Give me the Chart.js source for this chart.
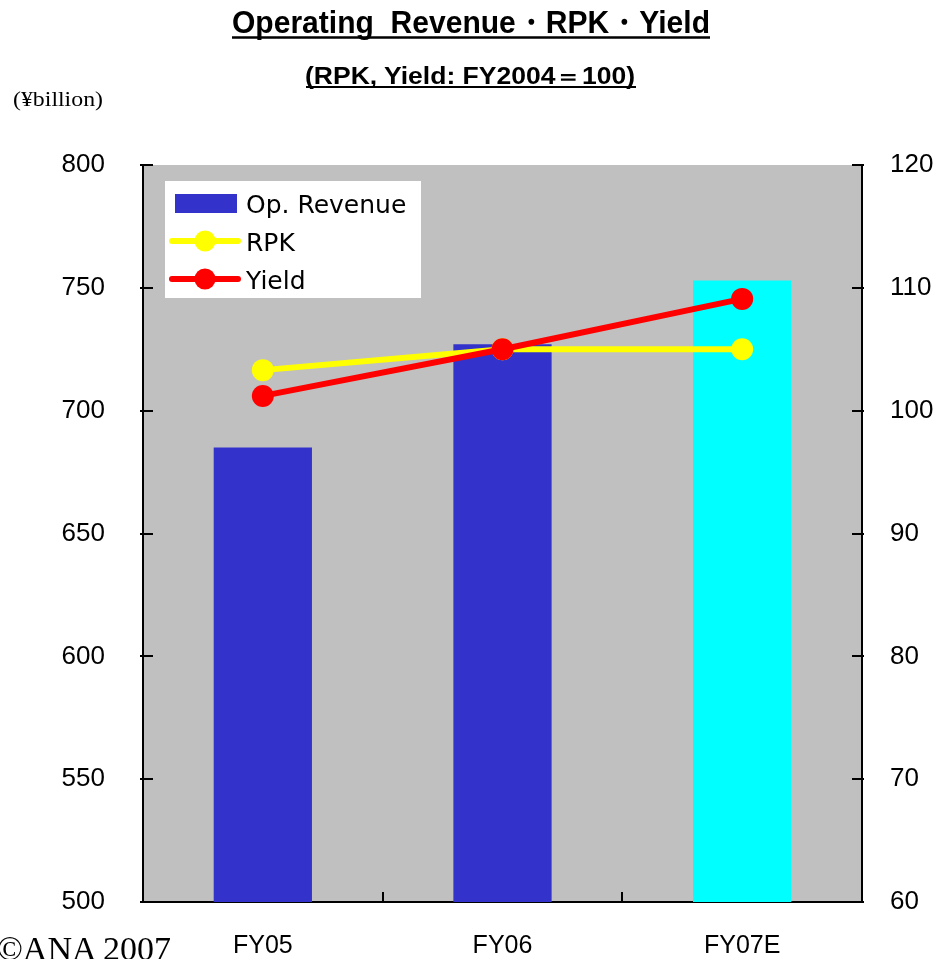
<!DOCTYPE html>
<html>
<head>
<meta charset="utf-8">
<script src="https://cdn.jsdelivr.net/npm/chart.js@4"></script>
<style>
  body { margin: 0; background: #fff; }
  #wrap { position: relative; width: 939px; height: 959px; overflow: hidden; }
  #chart { position: absolute; left: 0; top: 0; }
  #overlay { position: absolute; left: 0; top: 0; pointer-events: none; }
</style>
</head>
<body>
<div id="wrap">
  <canvas id="chart" width="939" height="959"></canvas>
  <svg id="overlay" width="939" height="959" xmlns="http://www.w3.org/2000/svg">
    <!-- titles -->
    <text x="471" y="33" text-anchor="middle" textLength="478" lengthAdjust="spacingAndGlyphs"
      style="white-space:pre" font-family="Liberation Sans, Arial, sans-serif" font-weight="bold" font-size="32">Operating  Revenue・RPK・Yield</text>
    <line x1="232" y1="37.5" x2="710" y2="37.5" stroke="#000" stroke-width="2.5"/>
    <text x="470" y="84" text-anchor="middle" textLength="330" lengthAdjust="spacingAndGlyphs"
      font-family="Liberation Sans, Arial, sans-serif" font-weight="bold" font-size="23">(RPK, Yield: FY2004＝100)</text>
    <line x1="306" y1="87" x2="636" y2="87" stroke="#000" stroke-width="2"/>
    <text x="13" y="106" textLength="90" lengthAdjust="spacingAndGlyphs"
      font-family="Liberation Serif, Times New Roman, serif" font-size="20">(¥billion)</text>
    <text x="-3" y="960" font-family="Liberation Serif, Times New Roman, serif" font-size="34">©ANA 2007</text>

    <!-- legend -->
    <rect x="165" y="181" width="256" height="117" fill="#fff"/>
    <rect x="175" y="194" width="62" height="19" fill="#3333CC"/>
    <text x="246" y="213" font-family="DejaVu Sans, sans-serif" font-size="25">Op. Revenue</text>
    <line x1="172" y1="241" x2="238" y2="241" stroke="#FFFF00" stroke-width="6" stroke-linecap="round"/>
    <circle cx="205" cy="241" r="10.5" fill="#FFFF00"/>
    <text x="246" y="251" font-family="DejaVu Sans, sans-serif" font-size="25">RPK</text>
    <line x1="172" y1="279" x2="238" y2="279" stroke="#FF0000" stroke-width="6" stroke-linecap="round"/>
    <circle cx="205" cy="279" r="10.5" fill="#FF0000"/>
    <text x="246" y="289" font-family="DejaVu Sans, sans-serif" font-size="25">Yield</text>
  </svg>
</div>
<script>
// data
const categories = ["FY05", "FY06", "FY07E"];
const opRevenue = [685, 727, 753];          // ¥billion, left axis
const rpkIndex = [103.3, 105.0, 105.0];     // FY2004 = 100, right axis
const yieldIndex = [101.2, 105.0, 109.1];   // FY2004 = 100, right axis
const barColors = ["#3333CC", "#3333CC", "#00FFFF"];
const revenueTicks = [500, 550, 600, 650, 700, 750, 800];
const indexTicks = [60, 70, 80, 90, 100, 110, 120];

const yFont = { family: "Liberation Sans, Arial, sans-serif", size: 26 };
const xFont = { family: "Liberation Sans, Arial, sans-serif", size: 25 };

// grey plot area
const plotBg = {
  id: "plotBg",
  beforeDraw(chart) {
    const { ctx, chartArea: a } = chart;
    ctx.save();
    ctx.fillStyle = "#C0C0C0";
    ctx.fillRect(a.left, a.top, a.right - a.left, a.bottom - a.top);
    ctx.restore();
  }
};

// tick marks pointing into the plot, like the original
const innerTicks = {
  id: "innerTicks",
  afterDraw(chart) {
    const { ctx, chartArea: a, scales } = chart;
    ctx.save();
    ctx.strokeStyle = "#000";
    ctx.lineWidth = 2;
    ctx.beginPath();
    scales.y.ticks.forEach(t => {
      const y = Math.round(scales.y.getPixelForValue(t.value));
      ctx.moveTo(a.left - 3, y);
      ctx.lineTo(a.left + 10, y);
    });
    scales.y1.ticks.forEach(t => {
      const y = Math.round(scales.y1.getPixelForValue(t.value));
      ctx.moveTo(a.right - 10, y);
      ctx.lineTo(a.right + 2, y);
    });
    for (let i = 0; i < categories.length - 1; i++) {
      const x = Math.round((scales.x.getPixelForValue(i) + scales.x.getPixelForValue(i + 1)) / 2);
      ctx.moveTo(x, a.bottom);
      ctx.lineTo(x, a.bottom - 10);
    }
    ctx.stroke();
    ctx.restore();
  }
};

new Chart(document.getElementById("chart"), {
  data: {
    labels: categories,
    datasets: [
      {
        type: "line",
        label: "Yield",
        data: yieldIndex,
        yAxisID: "y1",
        borderColor: "#FF0000",
        backgroundColor: "#FF0000",
        borderWidth: 6,
        pointRadius: 11,
        pointBorderWidth: 0,
        pointBackgroundColor: "#FF0000",
        order: 0
      },
      {
        type: "line",
        label: "RPK",
        data: rpkIndex,
        yAxisID: "y1",
        borderColor: "#FFFF00",
        backgroundColor: "#FFFF00",
        borderWidth: 6,
        pointRadius: 11,
        pointBorderWidth: 0,
        pointBackgroundColor: "#FFFF00",
        order: 1
      },
      {
        type: "bar",
        label: "Op. Revenue",
        data: opRevenue,
        yAxisID: "y",
        backgroundColor: barColors,
        barPercentage: 0.41,
        categoryPercentage: 1,
        order: 2
      }
    ]
  },
  options: {
    responsive: false,
    animation: false,
    layout: { padding: { top: 165, left: 0, right: 0, bottom: 0 } },
    plugins: {
      legend: { display: false },
      tooltip: { enabled: false }
    },
    scales: {
      x: {
        offset: true,
        grid: { display: false, drawTicks: false },
        border: { display: true, color: "#000", width: 2 },
        ticks: { color: "#000", font: xFont, padding: 29, maxRotation: 0 },
        afterFit(scale) { scale.height = 57; }
      },
      y: {
        position: "left",
        min: 500,
        max: 800,
        afterBuildTicks(scale) { scale.ticks = revenueTicks.map(v => ({ value: v })); },
        grid: { display: false, drawTicks: false },
        border: { display: true, color: "#000", width: 2 },
        ticks: { color: "#000", font: yFont, padding: 38 },
        afterFit(scale) { scale.width = 143; }
      },
      y1: {
        position: "right",
        min: 60,
        max: 120,
        afterBuildTicks(scale) { scale.ticks = indexTicks.map(v => ({ value: v })); },
        grid: { display: false, drawTicks: false },
        border: { display: true, color: "#000", width: 2 },
        ticks: { color: "#000", font: yFont, padding: 28 },
        afterFit(scale) { scale.width = 77; }
      }
    }
  },
  plugins: [plotBg, innerTicks]
});
</script>
</body>
</html>
